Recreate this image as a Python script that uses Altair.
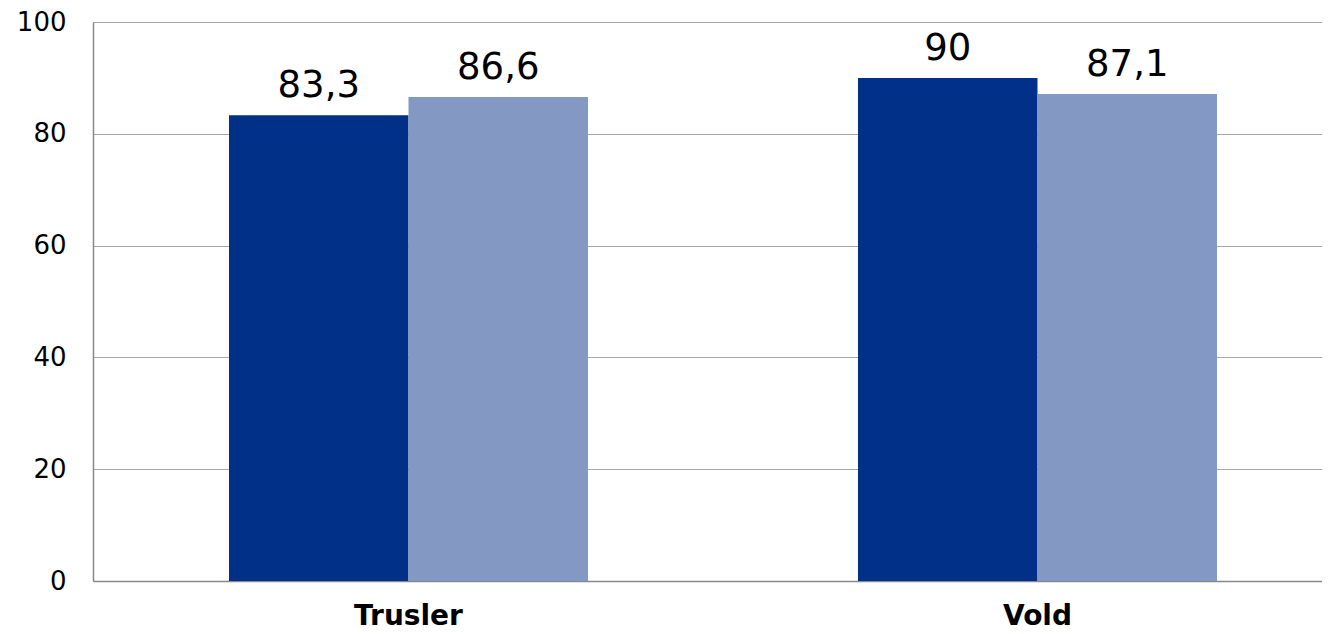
import altair as alt
import pandas as pd

categories = ["Trusler", "Trusler", "Vold", "Vold"]
series = ["Serie 1", "Serie 2", "Serie 1", "Serie 2"]
values = [83.3, 86.6, 90.0, 87.1]
y_ticks = [0, 20, 40, 60, 80, 100]

df = pd.DataFrame({"kategori": categories, "serie": series, "verdi": values})

FONT = "DejaVu Sans"

x_enc = alt.X(
    "kategori:N",
    sort=["Trusler", "Vold"],
    title=None,
    scale=alt.Scale(paddingInner=0.42925, paddingOuter=0.19157, align=0.5643),
    axis=alt.Axis(
        labelAngle=0, labelFont=FONT, labelFontSize=28, labelFontWeight="bold",
        labelColor="black", labelPadding=21, ticks=False, domainColor="#888888",
        domainWidth=1.5, grid=False,
    ),
)
xoff = alt.XOffset("serie:N", sort=["Serie 1", "Serie 2"], scale=alt.Scale(paddingInner=0, paddingOuter=0))
y_enc = alt.Y(
    "verdi:Q",
    title=None,
    scale=alt.Scale(domain=[0, 100], nice=False),
    axis=alt.Axis(
        values=y_ticks, labelFont=FONT, labelFontSize=26, labelColor="black",
        labelPadding=27, ticks=False, domainColor="#888888", domainWidth=1.5,
        gridColor="#a6a6a6", gridWidth=1,
    ),
)

base = alt.Chart(df).encode(x=x_enc, xOffset=xoff, y=y_enc)

bars = base.mark_bar().encode(
    color=alt.Color(
        "serie:N",
        scale=alt.Scale(domain=["Serie 1", "Serie 2"], range=["#003087", "#8399C4"]),
        legend=None,
    )
)

labels = base.transform_calculate(
    lbl="replace(toString(datum.verdi), '.', ',')"
).mark_text(
    font=FONT, fontSize=37, color="black", baseline="alphabetic", dy=-18
).encode(text="lbl:N")

chart = alt.layer(bars, labels).properties(
    width=1229, height=559,
    autosize=alt.AutoSizeParams(type="none"),
    padding={"left": 85, "top": 14, "right": 0, "bottom": 53},
).configure_view(stroke=None).configure_axis(domainColor="#888888")

chart.save("out.html", embed_options={"renderer": "svg", "actions": False})
